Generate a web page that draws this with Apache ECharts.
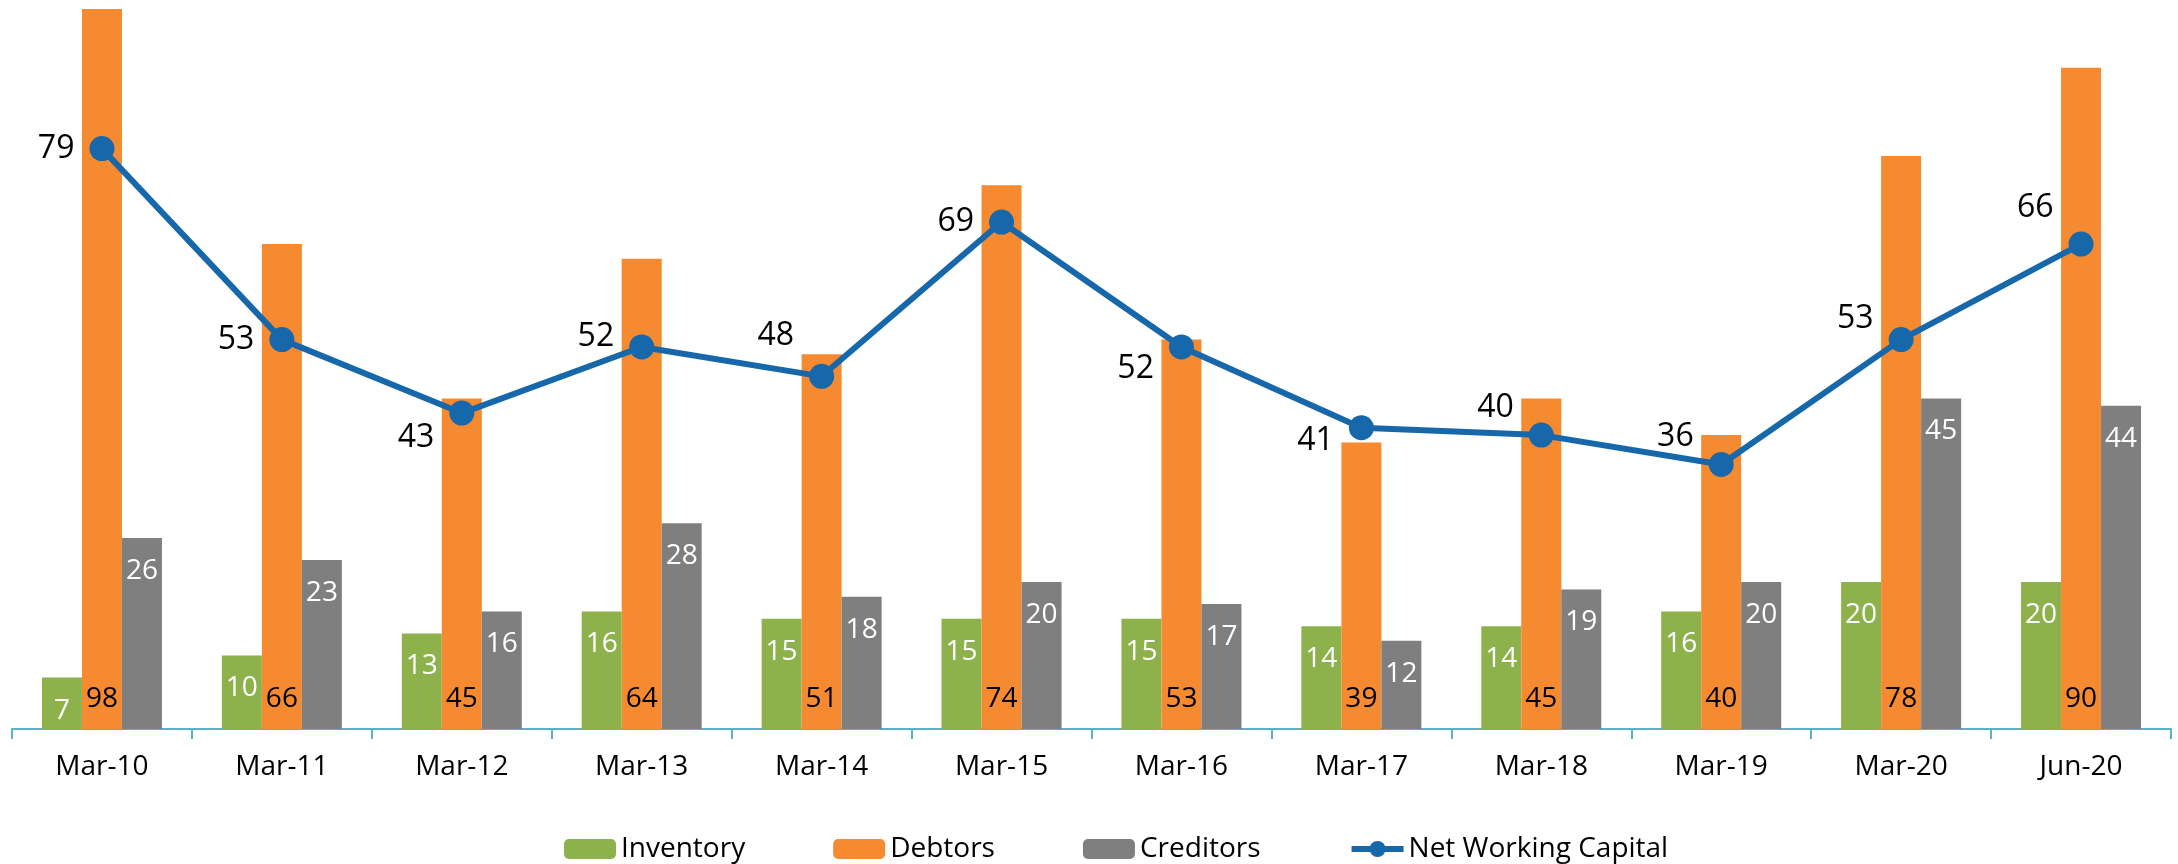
<!DOCTYPE html>
<html>
<head>
<meta charset="utf-8">
<script src="https://cdn.jsdelivr.net/npm/echarts@6/dist/echarts.min.js"></script>
<style>
    html, body { margin: 0; padding: 0; background: #fff; }
    #chart { width: 2178px; height: 864px; }
</style>
</head>
<body>
<div id="chart"></div>
<script>
const categories = ["Mar-10", "Mar-11", "Mar-12", "Mar-13", "Mar-14", "Mar-15", "Mar-16", "Mar-17", "Mar-18", "Mar-19", "Mar-20", "Jun-20"];
const inventory = [7, 10, 13, 16, 15, 15, 15, 14, 14, 16, 20, 20];
const debtors = [98, 66, 45, 64, 51, 74, 53, 39, 45, 40, 78, 90];
const creditors = [26, 23, 16, 28, 18, 20, 17, 12, 19, 20, 45, 44];
const netWorkingCapital = [79, 53, 43, 52, 48, 69, 52, 41, 40, 36, 53, 66];

// vertical nudge of each line label (Excel placed them by hand)
const nwcLabelShift = [0, 0, 25, -10, -40, 0, 22, 13, -27, -28, -21, -36];

const font = "Open Sans";

const chart = echarts.init(document.getElementById("chart"));

const barLabel = (color, position, distance) => ({
    show: true,
    position: position,
    distance: distance,
    color: color,
    fontFamily: font,
    fontSize: 28,
    lineHeight: 34,
});

chart.setOption({
    animation: false,
    textStyle: { fontFamily: font },
    grid: {
        left: 12,
        right: 7,
        top: 9,
        bottom: 135,
        containLabel: false,
    },
    legend: {
        left: 559,
        top: 830,
        itemWidth: 52,
        itemHeight: 20,
        itemGap: 88,
        textStyle: { fontFamily: font, fontSize: 28, color: "#000" },
        data: [
            "Inventory",
            "Debtors",
            "Creditors",
            { name: "Net Working Capital", lineStyle: { width: 6 } },
        ],
    },
    xAxis: {
        type: "category",
        data: categories,
        axisLine: { show: true, lineStyle: { color: "#5BB0CA", width: 2 } },
        axisTick: { show: true, length: 10, lineStyle: { color: "#5BB0CA", width: 2 } },
        axisLabel: { margin: 24, color: "#000", fontFamily: font, fontSize: 28 },
    },
    yAxis: {
        type: "value",
        min: 0,
        max: 98,
        show: false,
        splitLine: { show: false },
    },
    series: [
        {
            name: "Inventory",
            type: "bar",
            data: inventory,
            barGap: "0%",
            barCategoryGap: "33.3%",
            itemStyle: { color: "#8DB24C" },
            label: barLabel("#fff", "insideTop", 16),
        },
        {
            name: "Debtors",
            type: "bar",
            data: debtors,
            barGap: "0%",
            barCategoryGap: "33.3%",
            itemStyle: { color: "#F58A31" },
            label: barLabel("#000", "insideBottom", 13),
        },
        {
            name: "Creditors",
            type: "bar",
            data: creditors,
            barGap: "0%",
            barCategoryGap: "33.3%",
            itemStyle: { color: "#7F7F7F" },
            label: barLabel("#fff", "insideTop", 16),
        },
        {
            name: "Net Working Capital",
            type: "line",
            data: netWorkingCapital.map((v, i) => ({
                value: v,
                label: { offset: [0, nwcLabelShift[i]] },
            })),
            symbol: "circle",
            symbolSize: 25,
            lineStyle: { color: "#1767AB", width: 6 },
            itemStyle: { color: "#1767AB" },
            z: 5,
            label: {
                show: true,
                position: "left",
                distance: 15,
                color: "#000",
                fontFamily: font,
                fontSize: 32,
            },
        },
    ],
});
</script>
</body>
</html>
